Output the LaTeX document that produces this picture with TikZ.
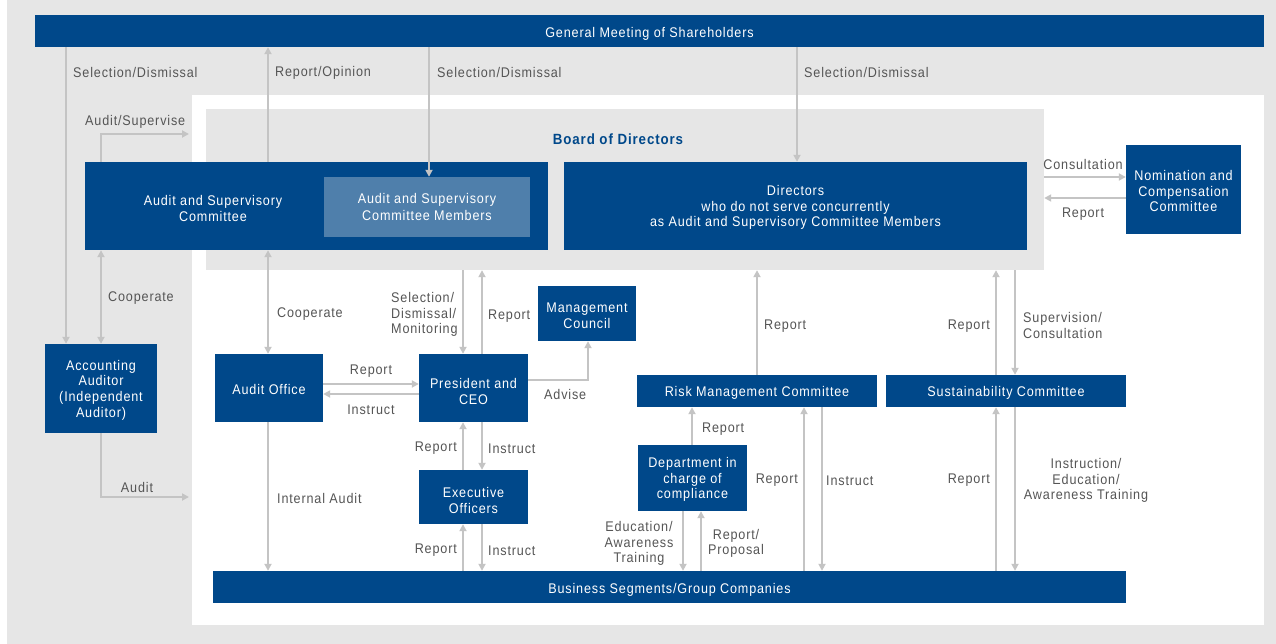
\documentclass[tikz,border=0pt]{standalone}
\usepackage{fontspec}
\setmainfont[FakeStretch=0.9,LetterSpace=6]{Liberation Sans}
\usetikzlibrary{arrows.meta,calc}
\definecolor{navy}{HTML}{00488A}
\definecolor{lightblue}{HTML}{4F7FAB}
\definecolor{bggray}{HTML}{E6E6E6}
\definecolor{arrowgray}{HTML}{C4C4C4}
\definecolor{labelgray}{HTML}{555555}
\begin{document}
\begin{tikzpicture}[x=1pt,y=-1pt,
  txt/.style={inner sep=0pt,align=center,font=\fontsize{14}{15.7}\selectfont},
  box/.style={txt,fill=navy,text=white},
  boxtext/.style={txt,text=white},
  lbl/.style={txt,text=labelgray,yshift=-1.5pt},
  tip/.tip={Triangle[length=7pt,width=7pt]},
  arr/.style={draw=arrowgray,line width=2pt,-tip},
  darr/.style={draw=arrowgray,line width=2pt,tip-tip}]
\useasboundingbox (0,0) rectangle (1276,644);
\fill[bggray] (7,0) rectangle (1276,644);
\fill[white] (192,95) rectangle (1264,625);
\node[fill=bggray,inner sep=0pt,minimum width=838pt,minimum height=161pt] (board) at (625,189.5) {};
\node[txt,text=navy,font=\fontsize{14.8}{16}\selectfont\bfseries,yshift=-1.5pt] (boardt) at (618,138) {Board of Directors};

% boxes
\node[box,minimum width=1229pt,minimum height=32pt,text depth=0pt] (gm) at (649.5,31) {\raisebox{-2pt}{General Meeting of Shareholders}};
\node[box,minimum width=463pt,minimum height=88pt] (asc) at (316.5,206) {};
\node[boxtext,yshift=-1.5pt] (asct) at (213,207) {Audit and Supervisory\\Committee};
\node[box,fill=lightblue,minimum width=206pt,minimum height=60pt] (asm) at (427,207) {\raisebox{-1.5pt}{\shortstack{Audit and Supervisory\\Committee Members}}};
\node[box,minimum width=463pt,minimum height=88pt] (dirs) at (795.5,206) {};
\node[boxtext,yshift=-1.5pt] (dirst) at (795.5,206) {Directors\\who do not serve concurrently\\as Audit and Supervisory Committee Members};
\node[box,minimum width=115pt,minimum height=89pt] (ncc) at (1183.5,189.5) {};
\node[boxtext,yshift=-1.5pt] (nccT) at (1183.5,189.5) {Nomination and\\Compensation\\Committee};
\node[box,minimum width=112pt,minimum height=89pt] (aa) at (101,388.5) {};
\node[boxtext,yshift=-1.5pt] (aaT) at (101,388.5) {Accounting\\Auditor\\(Independent\\Auditor)};
\node[box,minimum width=108pt,minimum height=68pt] (ao) at (269,388) {};
\node[boxtext,yshift=-1.5pt] (aoT) at (269,388) {Audit Office};
\node[box,minimum width=109pt,minimum height=68pt] (ceo) at (473.5,388) {};
\node[boxtext,yshift=-1.5pt] (ceoT) at (473.5,390) {President and\\CEO};
\node[box,minimum width=98pt,minimum height=55pt] (mc) at (587,313.5) {};
\node[boxtext,yshift=-1.5pt] (mcT) at (587,314) {Management\\Council};
\node[box,minimum width=109pt,minimum height=54pt] (eo) at (473.5,497) {};
\node[boxtext,yshift=-1.5pt] (eoT) at (473.5,499) {Executive\\Officers};
\node[box,minimum width=240pt,minimum height=32pt] (rmc) at (757,391) {};
\node[boxtext,yshift=-1.5pt] (rmcT) at (757,391) {Risk Management Committee};
\node[box,minimum width=240pt,minimum height=32pt] (sc) at (1006,391) {};
\node[boxtext,yshift=-1.5pt] (scT) at (1006,391) {Sustainability Committee};
\node[box,minimum width=109pt,minimum height=66pt] (dept) at (692.5,478) {};
\node[boxtext,yshift=-1.5pt] (deptT) at (692.5,478) {Department in\\charge of\\compliance};
\node[box,minimum width=913pt,minimum height=32pt] (bs) at (669.5,587) {};
\node[boxtext,yshift=-1.5pt] (bsT) at (669.5,588) {Business Segments/Group Companies};

% column / row helpers
\foreach \c in {66,101,268,429,463,482,588,683,692,701,757,797,804,822,996,1015}{\coordinate (c\c) at (\c,0);}
\foreach \r in {134,177,198,380,384,394,497}{\coordinate (r\r) at (0,\r);}
\coordinate (asend) at (189,134);
\coordinate (auend) at (189,497);

% connectors
\draw[arr] (gm.south -| c66) -- (aa.north -| c66);
\draw[arr] (asc.north -| c268) -- (gm.south -| c268);
\draw[arr] (gm.south -| c429) -- (asm.north -| c429);
\draw[arr] (gm.south -| c797) -- (dirs.north -| c797);
\draw[arr] (asc.north -| c101) |- (asend);
\draw[darr] (asc.south -| c101) -- (aa.north -| c101);
\draw[arr] (aa.south -| c101) |- (auend);
\draw[darr] (asc.south -| c268) -- (ao.north -| c268);
\draw[arr] (ao.east |- r384) -- (ceo.west |- r384);
\draw[arr] (ceo.west |- r394) -- (ao.east |- r394);
\draw[arr] (board.south -| c463) -- (ceo.north -| c463);
\draw[arr] (ceo.north -| c482) -- (board.south -| c482);
\draw[arr] (ceo.east |- r380) -| (mc.south -| c588);
\draw[arr] (eo.north -| c463) -- (ceo.south -| c463);
\draw[arr] (ceo.south -| c482) -- (eo.north -| c482);
\draw[arr] (bs.north -| c463) -- (eo.south -| c463);
\draw[arr] (eo.south -| c482) -- (bs.north -| c482);
\draw[arr] (ao.south -| c268) -- (bs.north -| c268);
\draw[arr] (rmc.north -| c757) -- (board.south -| c757);
\draw[arr] (sc.north -| c996) -- (board.south -| c996);
\draw[arr] (board.south -| c1015) -- (sc.north -| c1015);
\draw[arr] (dept.north -| c692) -- (rmc.south -| c692);
\draw[arr] (dept.south -| c683) -- (bs.north -| c683);
\draw[arr] (bs.north -| c701) -- (dept.south -| c701);
\draw[arr] (bs.north -| c804) -- (rmc.south -| c804);
\draw[arr] (rmc.south -| c822) -- (bs.north -| c822);
\draw[arr] (bs.north -| c996) -- (sc.south -| c996);
\draw[arr] (sc.south -| c1015) -- (bs.north -| c1015);
\draw[arr] (board.east |- r177) -- (ncc.west |- r177);
\draw[arr] (ncc.west |- r198) -- (board.east |- r198);

% labels
\node[lbl,anchor=west] (l1) at (73,71) {Selection/Dismissal};
\node[lbl,anchor=west] (l2) at (275,71) {Report/Opinion};
\node[lbl,anchor=west] (l3) at (437,71) {Selection/Dismissal};
\node[lbl,anchor=west] (l4) at (804,71) {Selection/Dismissal};
\node[lbl,anchor=west] (l5) at (85,120) {Audit/Supervise};
\node[lbl] (l6) at (1083,163) {Consultation};
\node[lbl] (l7) at (1083,213) {Report};
\node[lbl,anchor=west] (l8) at (108,297) {Cooperate};
\node[lbl,anchor=west] (l9) at (277,313) {Cooperate};
\node[lbl,anchor=west,align=left] (l10) at (391,313) {Selection/\\Dismissal/\\Monitoring};
\node[lbl,anchor=west] (l11) at (488,315) {Report};
\node[lbl] (l12) at (371,370) {Report};
\node[lbl] (l13) at (371,408) {Instruct};
\node[lbl,anchor=west] (l14) at (544,393) {Advise};
\node[lbl,anchor=east] (l15) at (457,447) {Report};
\node[lbl,anchor=west] (l16) at (488,447) {Instruct};
\node[lbl,anchor=west] (l17) at (277,497) {Internal Audit};
\node[lbl] (l18) at (137,486) {Audit};
\node[lbl,anchor=east] (l19) at (457,549) {Report};
\node[lbl,anchor=west] (l20) at (488,549) {Instruct};
\node[lbl,anchor=west] (l21) at (764,325) {Report};
\node[lbl,anchor=east] (l22) at (990,325) {Report};
\node[lbl,anchor=west,align=left] (l23) at (1023,324) {Supervision/\\Consultation};
\node[lbl,anchor=west] (l24) at (702,428) {Report};
\node[lbl,anchor=east] (l25) at (798,479) {Report};
\node[lbl,anchor=west] (l26) at (826,479) {Instruct};
\node[lbl,anchor=east] (l27) at (990,479) {Report};
\node[lbl] (l28) at (1086,479) {Instruction/\\Education/\\Awareness Training};
\node[lbl] (l29) at (639,542) {Education/\\Awareness\\Training};
\node[lbl] (l30) at (736,542) {Report/\\Proposal};
\end{tikzpicture}
\end{document}
